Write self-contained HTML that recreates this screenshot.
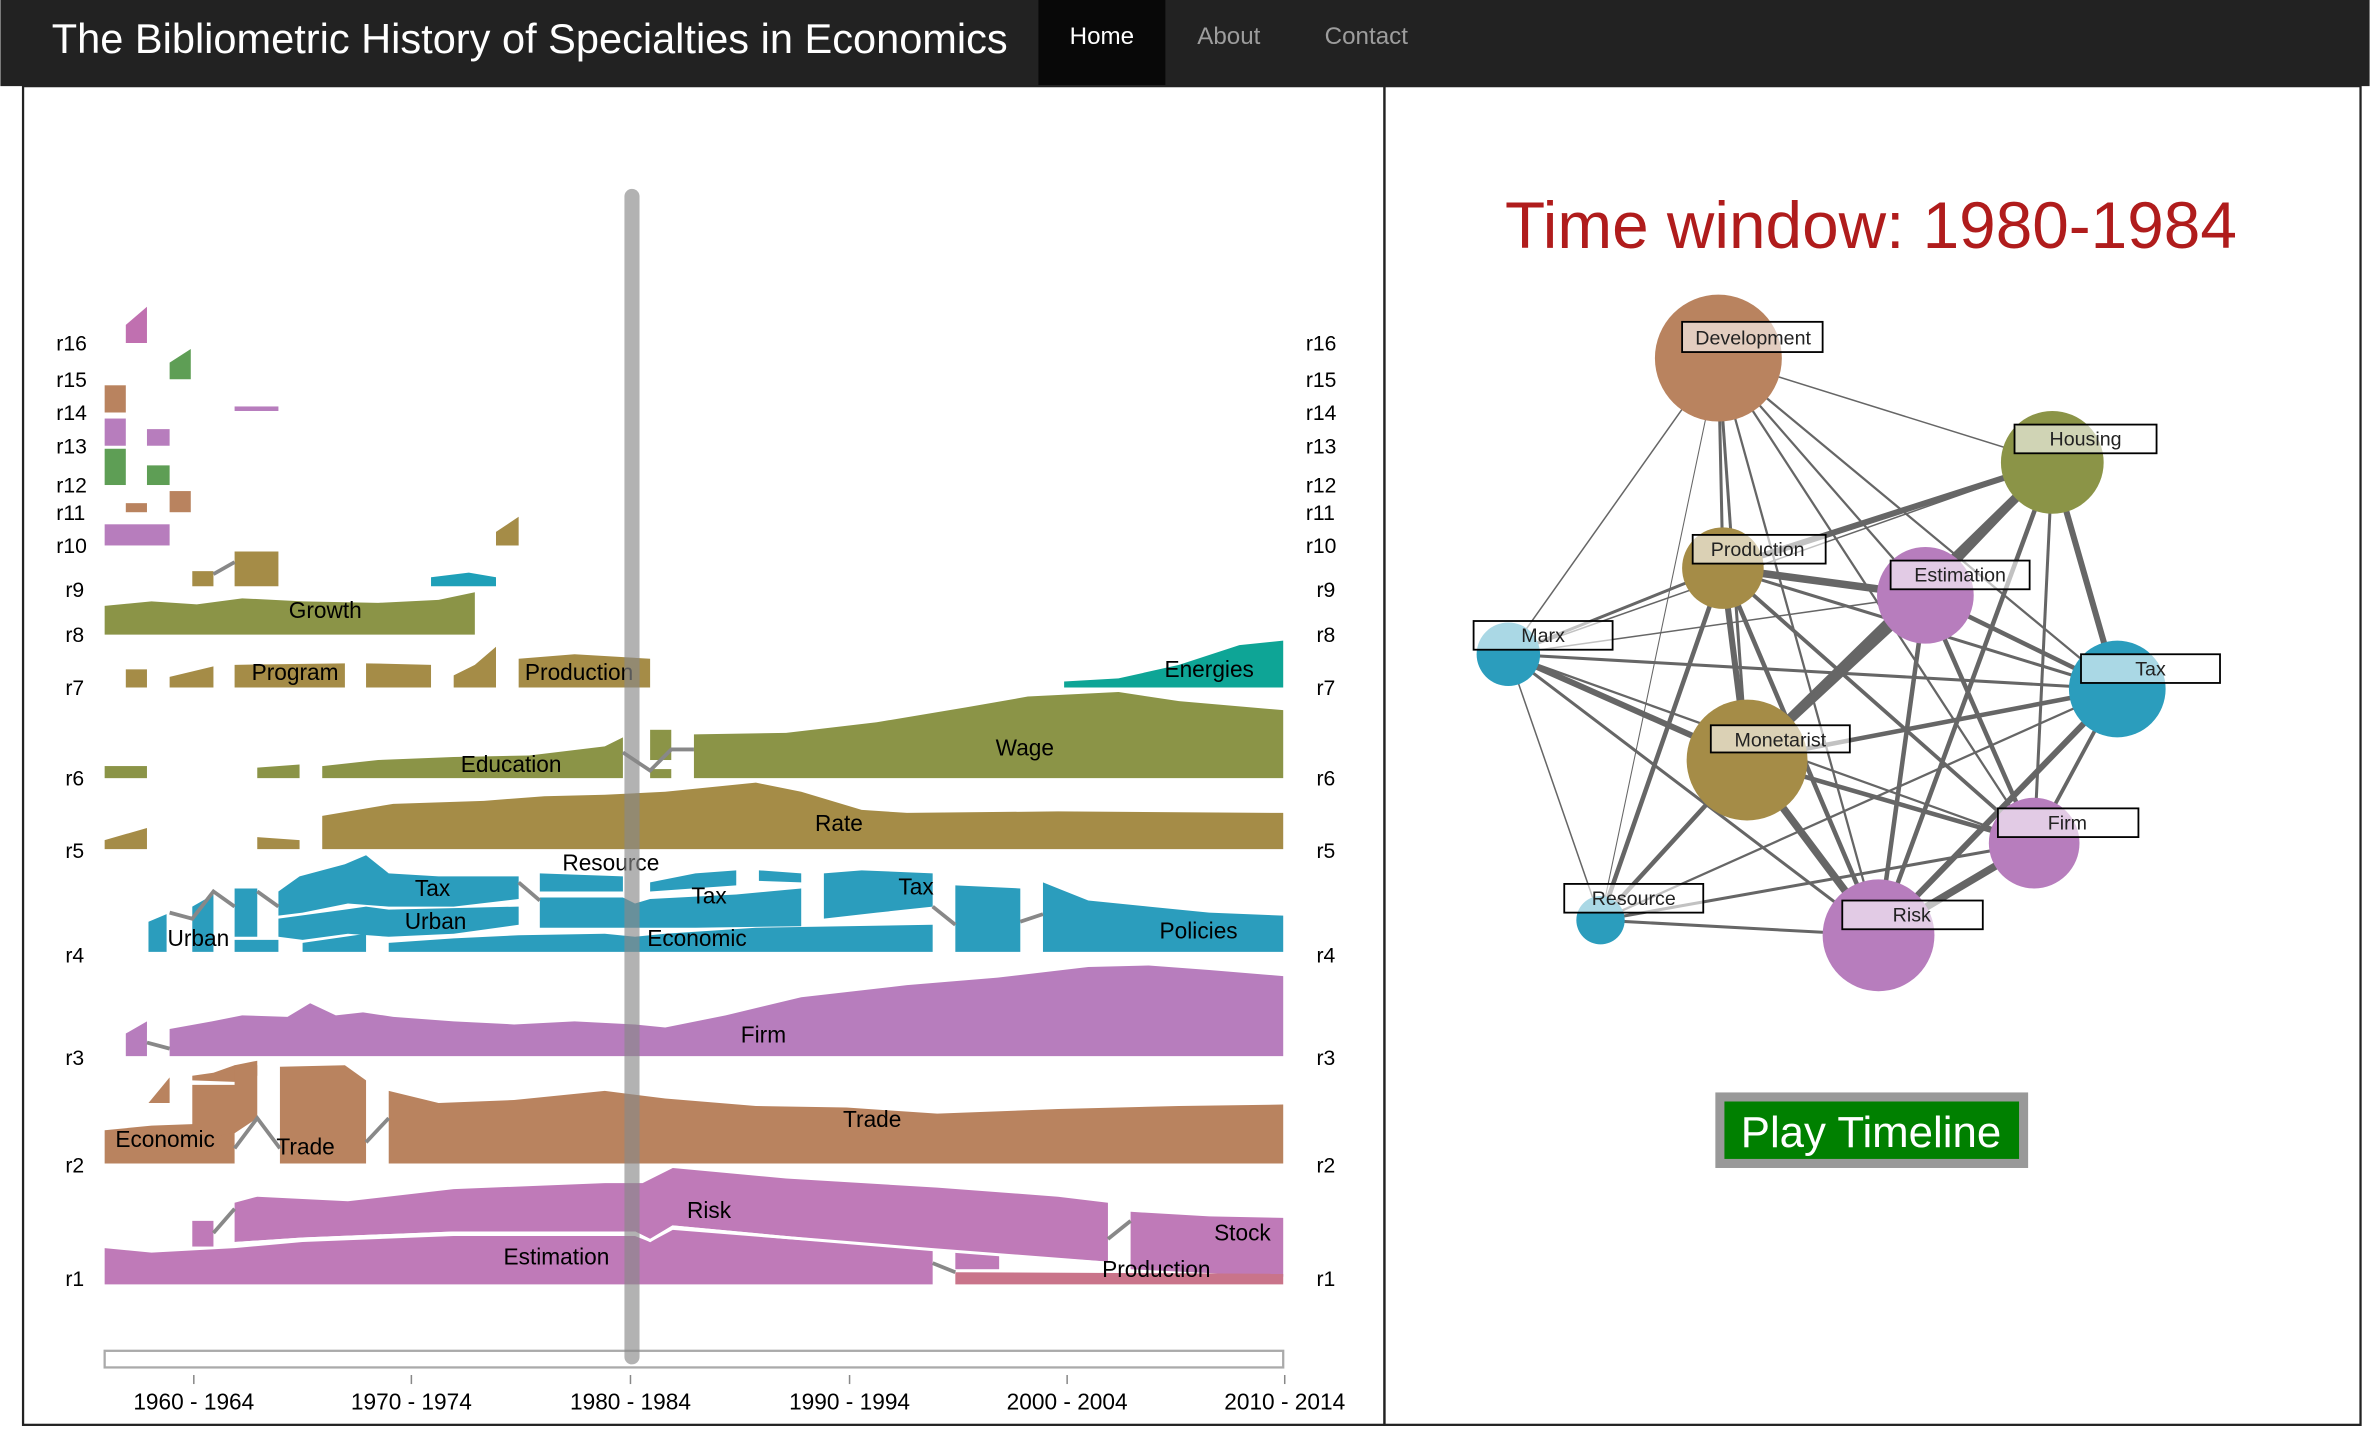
<!DOCTYPE html>
<html><head><meta charset="utf-8"><style>
html,body{margin:0;padding:0;background:#fff;}
svg{display:block;font-family:"Liberation Sans",sans-serif;}
</style></head><body>
<svg width="2370" height="1446" viewBox="0 0 1568 957" xmlns="http://www.w3.org/2000/svg">
<rect x="0" y="0" width="1568" height="57" fill="#222"/>
<text x="34" y="35" font-size="27.5" fill="#fff">The Bibliometric History of Specialties in Economics</text>
<rect x="687" y="0" width="84" height="57" fill="#080808"/>
<text x="729" y="29" font-size="16" fill="#fff" text-anchor="middle">Home</text>
<text x="813" y="29" font-size="16" fill="#9d9d9d" text-anchor="middle">About</text>
<text x="904" y="29" font-size="16" fill="#9d9d9d" text-anchor="middle">Contact</text>
<rect x="15" y="57" width="901" height="886" fill="none" stroke="#222" stroke-width="1.5"/>
<rect x="916" y="57" width="646" height="886" fill="none" stroke="#222" stroke-width="1.5"/>

<g font-size="14" fill="#000">
<text x="37" y="232">r16</text><text x="37" y="256">r15</text><text x="37" y="278">r14</text><text x="37" y="300">r13</text><text x="37" y="326">r12</text><text x="37" y="344">r11</text><text x="37" y="366">r10</text><text x="43" y="395">r9</text><text x="43" y="425">r8</text><text x="43" y="460">r7</text><text x="43" y="520">r6</text><text x="43" y="568">r5</text><text x="43" y="637">r4</text><text x="43" y="705">r3</text><text x="43" y="776">r2</text><text x="43" y="851">r1</text>
<text x="864" y="232">r16</text><text x="864" y="256">r15</text><text x="864" y="278">r14</text><text x="864" y="300">r13</text><text x="864" y="326">r12</text><text x="864" y="344">r11</text><text x="864" y="366">r10</text><text x="871" y="395">r9</text><text x="871" y="425">r8</text><text x="871" y="460">r7</text><text x="871" y="520">r6</text><text x="871" y="568">r5</text><text x="871" y="637">r4</text><text x="871" y="705">r3</text><text x="871" y="776">r2</text><text x="871" y="851">r1</text>
</g>

<!-- small rows -->
<polygon points="83,215 97,203 97,227 83,227" fill="#c070b0"/>
<polygon points="112,240 126,231 126,251 112,251" fill="#5e9e55"/>
<rect x="69" y="255" width="14" height="18" fill="#b9835f"/>
<rect x="155" y="269" width="29" height="3" fill="#b77dbd"/>
<rect x="69" y="277" width="14" height="18" fill="#b77dbd"/>
<rect x="97" y="284" width="15" height="11" fill="#b77dbd"/>
<rect x="69" y="297" width="14" height="24" fill="#5e9e55"/>
<rect x="97" y="308" width="15" height="13" fill="#5e9e55"/>
<rect x="83" y="333" width="14" height="6" fill="#b9835f"/>
<rect x="112" y="325" width="14" height="14" fill="#b9835f"/>
<rect x="69" y="347" width="43" height="14" fill="#b77dbd"/>
<polygon points="328,352 343,342 343,361 328,361" fill="#a58c47"/>
<rect x="127" y="378" width="14" height="10" fill="#a58c47"/>
<rect x="155" y="365" width="29" height="23" fill="#a58c47"/>
<polygon points="285,382 310,379 328,382 328,388 285,388" fill="#1fa0b8"/>
<polygon points="69,401 100,398 130,400 160,396 200,398 250,399 290,397 314,392 314,420 69,420" fill="#8b9447"/>
<g fill="#a58c47">
<rect x="83" y="443" width="14" height="12"/><polygon points="112,448 141,441 141,455 112,455"/><polygon points="155,440 228,439 228,455 155,455"/><polygon points="242,439 285,440 285,455 242,455"/><polygon points="300,447 314,440 328,428 328,455 300,455"/><polygon points="343,436 380,433 430,436 430,455 343,455"/>
</g>
<polygon points="704,451 740,449 780,440 820,427 849,424 849,455 704,455" fill="#0ea596"/>
<!-- r6 -->
<g fill="#8b9447">
<rect x="69" y="507" width="28" height="8"/><polygon points="170,508 198,506 198,515 170,515"/>
<polygon points="213,507 250,503 300,501 350,500 400,494 412,488 412,515 213,515"/>
<rect x="430" y="483" width="14" height="20"/><rect x="430" y="509" width="14" height="6"/>
<polygon points="459,486 520,485 580,478 640,468 680,461 740,458 780,464 849,470 849,515 459,515"/>
</g>
<!-- r5 -->
<g fill="#a58c47">
<polygon points="69,556 97,548 97,562 69,562"/><polygon points="170,554 198,556 198,562 170,562"/>
<polygon points="213,540 260,532 320,530 360,527 400,526 440,524 500,518 530,524 570,536 600,538 700,537 849,538 849,562 213,562"/>
</g>
<!-- r4 -->
<g fill="#2b9dbd">
<polygon points="98,610 110,605 110,630 98,630"/>
<polygon points="127,600 141,592 141,630 127,630"/>
<polygon points="155,588 170,588 170,620 155,620"/><polygon points="155,622 184,622 184,630 155,630"/>
<polygon points="184,590 198,580 228,572 242,566 257,578 290,580 343,580 343,595 300,600 257,600 230,598 200,604 184,606"/>
<polygon points="184,608 228,602 242,600 257,602 300,601 343,600 343,612 300,618 257,620 230,618 200,622 184,620"/>
<polygon points="200,624 242,618 242,630 200,630"/><polygon points="257,624 300,621 343,619 400,618 420,620 440,618 500,614 617,612 617,630 257,630"/>
<polygon points="357,578 412,580 412,590 357,590"/><polygon points="357,594 412,594 420,598 430,595 487,592 530,588 530,613 460,614 420,614 357,614"/>
<polygon points="430,584 460,578 487,576 487,586 430,590"/><polygon points="502,576 530,578 530,584 502,583"/>
<polygon points="545,578 570,576 617,578 617,600 580,604 545,608"/>
<polygon points="632,586 675,588 675,630 632,630"/>
<polygon points="690,584 720,596 760,600 800,604 849,606 849,630 690,630"/>
</g>
<!-- r3 -->
<g fill="#b77dbd">
<polygon points="83,684 97,676 97,699 83,699"/>
<polygon points="112,681 140,676 160,672 190,673 205,664 222,672 240,670 260,673 300,676 340,678 380,676 420,678 440,680 480,672 530,660 600,652 660,647 720,640 760,639 800,642 849,646 849,699 112,699"/>
</g>
<!-- r2 -->
<g fill="#b9835f">
<polygon points="69,748 100,745 127,744 141,740 155,742 155,770 69,770"/>
<polygon points="98,730 112,713 112,730"/>
<polygon points="127,712 141,710 155,705 170,702 170,712 155,716 127,715"/>
<polygon points="127,718 155,718 155,705 170,705 170,740 155,750 141,752 127,750"/>
<polygon points="185,706 228,705 242,715 242,770 185,770"/>
<polygon points="257,722 290,730 340,728 400,722 440,727 500,732 560,733 620,737 700,734 780,732 849,731 849,770 257,770"/>
</g>
<!-- r1 -->
<g fill="#bf7ab8">
<polygon points="69,826 100,829 155,826 200,822 300,818 420,818 430,822 445,814 520,820 617,827 617,850 69,850"/>
<polygon points="155,796 170,792 230,795 300,787 400,783 425,783 445,773 520,780 620,786 700,792 733,796 733,835 617,827 520,818 445,811 430,820 420,815 300,815 200,819 155,822"/>
<rect x="127" y="808" width="14" height="17"/>
<rect x="632" y="828" width="29" height="12"/>
<polygon points="748,802 800,805 849,806 849,845 748,840"/>
</g>
<polygon points="632,842 849,843 849,850 632,850" fill="#c9748a"/>
<g stroke="#fff" stroke-width="2" fill="none">
<polyline points="155,823 200,820 300,816 420,816 430,821 445,812 520,819 617,827 733,836"/>
</g>
<g stroke="#888" stroke-width="2.5" fill="none">
<polyline points="141,816 155,800"/><polyline points="617,836 632,842"/><polyline points="733,820 748,808"/>
<polyline points="155,760 170,740 185,760"/><polyline points="242,756 257,740"/>
<polyline points="97,690 112,694"/><polyline points="412,498 430,510 444,496 459,496"/>
<polyline points="617,600 632,612"/><polyline points="675,610 690,605"/>
<polyline points="343,584 357,596"/><polyline points="141,380 155,372"/>
<polyline points="112,604 127,608 141,590 155,600"/><polyline points="170,590 184,600"/>
</g>

<!-- labels -->
<g font-size="15" fill="#000" text-anchor="middle">
<text x="215" y="409">Growth</text><text x="195" y="450">Program</text><text x="383" y="450">Production</text><text x="800" y="448">Energies</text><text x="338" y="511">Education</text><text x="678" y="500">Wage</text><text x="555" y="550">Rate</text><text x="404" y="576">Resource</text><text x="286" y="593">Tax</text><text x="469" y="598">Tax</text><text x="606" y="592">Tax</text><text x="288" y="615">Urban</text><text x="131" y="626">Urban</text><text x="461" y="626">Economic</text><text x="793" y="621">Policies</text><text x="505" y="690">Firm</text><text x="109" y="759">Economic</text><text x="202" y="764">Trade</text><text x="577" y="746">Trade</text><text x="469" y="806">Risk</text><text x="368" y="837">Estimation</text><text x="822" y="821">Stock</text><text x="765" y="845">Production</text>
</g>

<rect x="69" y="894" width="780" height="11" fill="none" stroke="#aaa" stroke-width="1.5"/>
<rect x="413" y="125" width="10" height="778" rx="5" fill="#888" opacity="0.65"/>
<g stroke="#888"><line x1="128" y1="910" x2="128" y2="916"/><line x1="272" y1="910" x2="272" y2="916"/><line x1="417" y1="910" x2="417" y2="916"/><line x1="562" y1="910" x2="562" y2="916"/><line x1="706" y1="910" x2="706" y2="916"/><line x1="850" y1="910" x2="850" y2="916"/></g>
<g font-size="15" fill="#000" text-anchor="middle">
<text x="128" y="933">1960 - 1964</text><text x="272" y="933">1970 - 1974</text><text x="417" y="933">1980 - 1984</text><text x="562" y="933">1990 - 1994</text><text x="706" y="933">2000 - 2004</text><text x="850" y="933">2010 - 2014</text>
</g>

<!-- right -->
<text x="1238" y="164" font-size="43.5" fill="#b01c1c" text-anchor="middle">Time window: 1980-1984</text>
<g stroke="#666" fill="none">
<line x1="1137" y1="237" x2="1358" y2="306" stroke-width="1"/>
<line x1="1137" y1="237" x2="1140" y2="376" stroke-width="2"/>
<line x1="1137" y1="237" x2="1274" y2="394" stroke-width="1.5"/>
<line x1="1137" y1="237" x2="998" y2="433" stroke-width="1"/>
<line x1="1137" y1="237" x2="1401" y2="456" stroke-width="1.5"/>
<line x1="1137" y1="237" x2="1156" y2="503" stroke-width="2"/>
<line x1="1137" y1="237" x2="1346" y2="558" stroke-width="1.5"/>
<line x1="1137" y1="237" x2="1059" y2="609" stroke-width="0.7"/>
<line x1="1137" y1="237" x2="1243" y2="619" stroke-width="1.5"/>
<line x1="1358" y1="306" x2="1140" y2="376" stroke-width="4"/>
<line x1="1358" y1="306" x2="1274" y2="394" stroke-width="3"/>
<line x1="1358" y1="306" x2="998" y2="433" stroke-width="1"/>
<line x1="1358" y1="306" x2="1401" y2="456" stroke-width="4"/>
<line x1="1358" y1="306" x2="1156" y2="503" stroke-width="6"/>
<line x1="1358" y1="306" x2="1346" y2="558" stroke-width="2"/>
<line x1="1358" y1="306" x2="1243" y2="619" stroke-width="3"/>
<line x1="1140" y1="376" x2="1274" y2="394" stroke-width="5"/>
<line x1="1140" y1="376" x2="998" y2="433" stroke-width="2"/>
<line x1="1140" y1="376" x2="1401" y2="456" stroke-width="2"/>
<line x1="1140" y1="376" x2="1156" y2="503" stroke-width="4"/>
<line x1="1140" y1="376" x2="1346" y2="558" stroke-width="2.5"/>
<line x1="1140" y1="376" x2="1059" y2="609" stroke-width="3"/>
<line x1="1140" y1="376" x2="1243" y2="619" stroke-width="3"/>
<line x1="1274" y1="394" x2="998" y2="433" stroke-width="1"/>
<line x1="1274" y1="394" x2="1401" y2="456" stroke-width="3"/>
<line x1="1274" y1="394" x2="1156" y2="503" stroke-width="5"/>
<line x1="1274" y1="394" x2="1346" y2="558" stroke-width="3"/>
<line x1="1274" y1="394" x2="1243" y2="619" stroke-width="3"/>
<line x1="998" y1="433" x2="1401" y2="456" stroke-width="2"/>
<line x1="998" y1="433" x2="1156" y2="503" stroke-width="4"/>
<line x1="998" y1="433" x2="1346" y2="558" stroke-width="1.5"/>
<line x1="998" y1="433" x2="1059" y2="609" stroke-width="1"/>
<line x1="998" y1="433" x2="1243" y2="619" stroke-width="2"/>
<line x1="1401" y1="456" x2="1156" y2="503" stroke-width="3"/>
<line x1="1401" y1="456" x2="1346" y2="558" stroke-width="2.5"/>
<line x1="1401" y1="456" x2="1243" y2="619" stroke-width="4"/>
<line x1="1401" y1="456" x2="1059" y2="609" stroke-width="1.5"/>
<line x1="1156" y1="503" x2="1346" y2="558" stroke-width="3"/>
<line x1="1156" y1="503" x2="1059" y2="609" stroke-width="3"/>
<line x1="1156" y1="503" x2="1243" y2="619" stroke-width="5"/>
<line x1="1346" y1="558" x2="1243" y2="619" stroke-width="5"/>
<line x1="1346" y1="558" x2="1059" y2="609" stroke-width="2"/>
<line x1="1059" y1="609" x2="1243" y2="619" stroke-width="2"/>
</g>
<circle cx="1137" cy="237" r="42" fill="#b9835f"/>
<circle cx="1358" cy="306" r="34" fill="#8b9447"/>
<circle cx="1140" cy="376" r="27" fill="#a58c47"/>
<circle cx="1274" cy="394" r="32" fill="#b77dbd"/>
<circle cx="998" cy="433" r="21" fill="#2b9dbd"/>
<circle cx="1401" cy="456" r="32" fill="#2b9dbd"/>
<circle cx="1156" cy="503" r="40" fill="#a58c47"/>
<circle cx="1346" cy="558" r="30" fill="#b77dbd"/>
<circle cx="1059" cy="609" r="16" fill="#2b9dbd"/>
<circle cx="1243" cy="619" r="37" fill="#b77dbd"/>
<g fill="#fff" fill-opacity="0.6" stroke="#000" stroke-width="1.2">
<rect x="1113" y="213" width="93" height="20"/><rect x="1333" y="281" width="94" height="19"/><rect x="1120" y="354" width="88" height="19"/><rect x="1251" y="371" width="92" height="19"/><rect x="975" y="411" width="92" height="19"/><rect x="1377" y="433" width="92" height="19"/><rect x="1132" y="480" width="92" height="18"/><rect x="1322" y="535" width="93" height="19"/><rect x="1035" y="585" width="92" height="19"/><rect x="1219" y="596" width="93" height="19"/>
</g>
<g font-size="13" fill="#222" text-anchor="middle">
<text x="1160" y="228">Development</text><text x="1380" y="295">Housing</text><text x="1163" y="368">Production</text><text x="1297" y="385">Estimation</text><text x="1021" y="425">Marx</text><text x="1423" y="447">Tax</text><text x="1178" y="494">Monetarist</text><text x="1368" y="549">Firm</text><text x="1081" y="599">Resource</text><text x="1265" y="610">Risk</text>
</g>
<rect x="1135" y="723" width="207" height="50" fill="#999"/>
<rect x="1141" y="729" width="195" height="38" fill="#008000"/>
<text x="1238" y="759" font-size="29" fill="#fff" text-anchor="middle">Play Timeline</text>
</svg>
</body></html>
